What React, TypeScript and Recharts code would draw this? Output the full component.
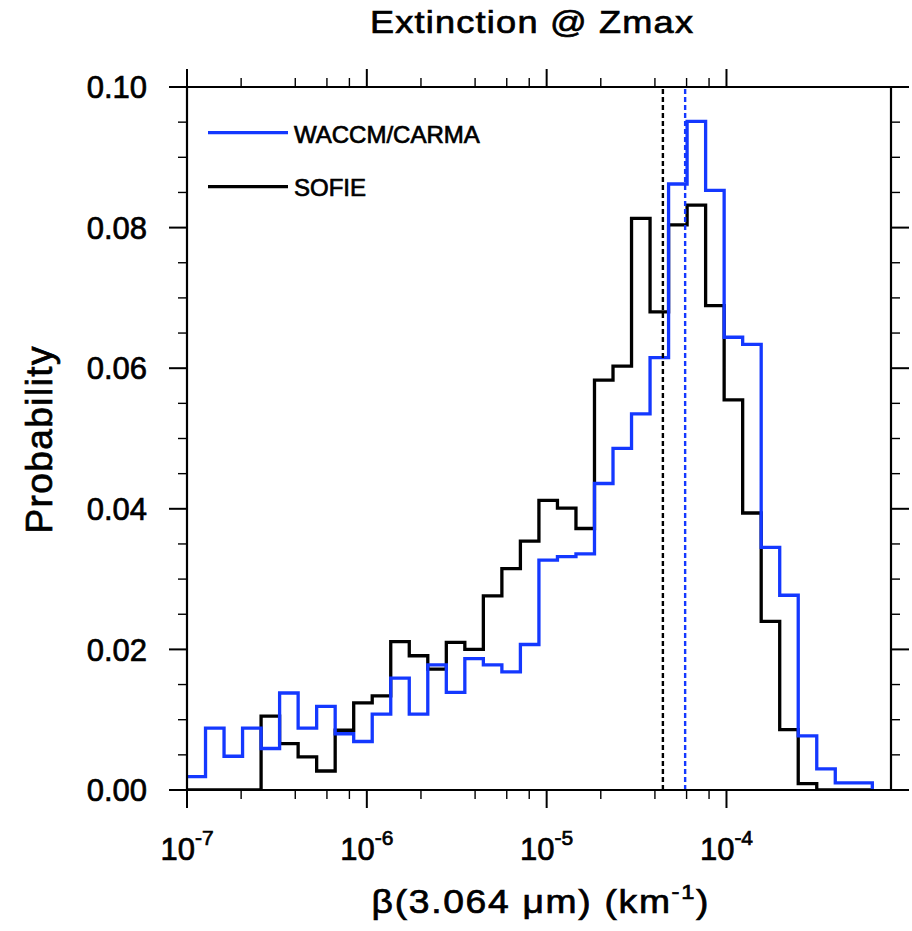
import React from 'react';
import { ComposedChart, Line, XAxis, YAxis, ReferenceLine, Customized } from 'recharts';

// ---- data ----
const LOG_MIN = -7; // first bin edge = 1e-7
const BIN_WIDTH_DECADES = 0.103; // histogram bin width in log10 units
const X_MAX = 8.22e-4;

const waccmCarma = [
  0.0019, 0.0088, 0.0048, 0.0088, 0.0059, 0.0138, 0.0088, 0.0119, 0.0080, 0.0069,
  0.0108, 0.0159, 0.0108, 0.0178, 0.0139, 0.0187, 0.0178, 0.0168, 0.0207, 0.0327,
  0.0332, 0.0336, 0.0436, 0.0486, 0.0535, 0.0615, 0.0862, 0.0951, 0.0853, 0.0644,
  0.0634, 0.0345, 0.0277, 0.0077, 0.0030, 0.0010, 0.0010,
];
const sofie = [
  0.0, 0.0, 0.0, 0.0, 0.0105, 0.0066, 0.0047, 0.0027, 0.0085, 0.0124,
  0.0134, 0.0211, 0.0191, 0.0172, 0.0210, 0.0200, 0.0276, 0.0315, 0.0354, 0.0412,
  0.0401, 0.0372, 0.0583, 0.0603, 0.0813, 0.0680, 0.0804, 0.0832, 0.0689, 0.0555,
  0.0394, 0.0240, 0.0086, 0.0009, 0.0, 0.0, 0.0,
];
const waccmMean = 5.89e-5;
const sofieMean = 4.43e-5;

const xMajorExponents = [-7, -6, -5, -4];
const xMinorMultipliers = [2, 4, 6, 8];
const yMajorTicks = [0, 0.02, 0.04, 0.06, 0.08, 0.1];
const yTickLabels = ['0.00', '0.02', '0.04', '0.06', '0.08', '0.10'];
const yMinorTicks = [0.005, 0.01, 0.015, 0.025, 0.03, 0.035, 0.045, 0.05, 0.055, 0.065, 0.07, 0.075, 0.085, 0.09, 0.095];

const seriesNames = ['WACCM/CARMA', 'SOFIE'];
const seriesColors = ['#1438ff', '#000000'];
const title = 'Extinction @ Zmax';
const yLabel = 'Probability';

// ---- derived ----
const binEdges = Array.from({ length: waccmCarma.length + 1 }, (_, k) =>
  Math.pow(10, LOG_MIN + BIN_WIDTH_DECADES * k)
);
const chartData = binEdges.map((edge, k) => ({
  edge,
  waccm: k < waccmCarma.length ? waccmCarma[k] : 0,
  sofie: k < sofie.length ? sofie[k] : 0,
}));

const xTicks: number[] = [];
xMajorExponents.forEach((e, i) => {
  xTicks.push(Math.pow(10, e));
  if (i < xMajorExponents.length - 1) {
    xMinorMultipliers.forEach((m) => xTicks.push(m * Math.pow(10, e)));
  }
});
const yTicks = [...yMajorTicks, ...yMinorTicks].sort((a, b) => a - b);

const FONT = '"Liberation Sans", Arial, Helvetica, sans-serif';
const TEXT_STROKE = 0.7;
const MAJOR = 18;
const MINOR = 9;

const isXMajor = (v: number) => {
  const e = Math.round(Math.log10(v));
  return Math.abs(v / Math.pow(10, e) - 1) < 1e-6;
};

const XTickBottom = (props: any) => {
  const { x, y, payload } = props;
  const v = payload.value;
  const major = isXMajor(v);
  const exp = Math.round(Math.log10(v));
  return (
    <g>
      <line x1={x} x2={x} y1={y} y2={y + (major ? MAJOR : MINOR)} stroke="#000" strokeWidth={major ? 2 : 1.4} />
      {major && (
        <text
          x={x}
          y={y + 70}
          textAnchor="middle"
          fontSize={31}
          fontFamily={FONT}
          fill="#000"
          stroke="#000"
          strokeWidth={TEXT_STROKE}
        >
          <tspan>10</tspan>
          <tspan dy={-15} fontSize={21}>{`${exp}`}</tspan>
        </text>
      )}
    </g>
  );
};

const XTickTop = (props: any) => {
  const { x, y, payload } = props;
  const major = isXMajor(payload.value);
  return <line x1={x} x2={x} y1={y} y2={y - (major ? MAJOR : MINOR)} stroke="#000" strokeWidth={major ? 2 : 1.4} />;
};

const majorIndex = (v: number) => yMajorTicks.findIndex((t) => Math.abs(t - v) < 1e-9);

const YTickLeft = (props: any) => {
  const { x, y, payload } = props;
  const idx = majorIndex(payload.value);
  const major = idx >= 0;
  return (
    <g>
      <line x1={x} x2={x - (major ? MAJOR : MINOR)} y1={y} y2={y} stroke="#000" strokeWidth={major ? 2 : 1.4} />
      {major && (
        <text
          x={x - 40}
          y={y}
          dy="0.36em"
          textAnchor="end"
          fontSize={31}
          fontFamily={FONT}
          fill="#000"
          stroke="#000"
          strokeWidth={TEXT_STROKE}
        >
          {yTickLabels[idx]}
        </text>
      )}
    </g>
  );
};

const YTickRight = (props: any) => {
  const { x, y, payload } = props;
  const major = majorIndex(payload.value) >= 0;
  return <line x1={x} x2={x + (major ? MAJOR : MINOR)} y1={y} y2={y} stroke="#000" strokeWidth={major ? 2 : 1.4} />;
};

const STRETCH = 1.13;

const Overlay = () => (
  <g fontFamily={FONT} fill="#000" stroke="#000" strokeWidth={TEXT_STROKE}>
    <g transform={`translate(531.5 32.7) scale(${STRETCH} 1)`}>
      <text x={0} y={0} textAnchor="middle" fontSize={32} textLength={323 / STRETCH} lengthAdjust="spacing">
        {title}
      </text>
    </g>
    <g transform={`translate(540 912.7) scale(${STRETCH} 1)`}>
      <text x={0} y={0} textAnchor="middle" fontSize={33} textLength={337 / STRETCH} lengthAdjust="spacing">
        <tspan>β(3.064 μm) (km</tspan>
        <tspan dy={-14} fontSize={21}>-1</tspan>
        <tspan dy={14}>)</tspan>
      </text>
    </g>
    <text
      x={51.7}
      y={440}
      transform="rotate(-90 51.7 440)"
      textAnchor="middle"
      fontSize={37}
      textLength={187}
      lengthAdjust="spacing"
    >
      {yLabel}
    </text>
    {seriesNames.map((name, i) => (
      <g key={name}>
        <line
          x1={208}
          x2={288}
          y1={132.7 + i * 54}
          y2={132.7 + i * 54}
          stroke={seriesColors[i]}
          strokeWidth={3.3}
        />
        <text x={294} y={142.7 + i * 53} fontSize={24}>
          {name}
        </text>
      </g>
    ))}
  </g>
);

export default function App() {
  return (
    <>
      <style>{`body{margin:0}`}</style>
      <ComposedChart
        width={912}
        height={931}
        data={chartData}
        margin={{ top: 67, right: 0, bottom: 41, left: 0 }}
      >
        <XAxis
          xAxisId="bottom"
          dataKey="edge"
          type="number"
          scale="log"
          domain={[1e-7, X_MAX]}
          allowDataOverflow
          ticks={xTicks}
          interval={0}
          tickSize={0}
          tickMargin={0}
          tick={<XTickBottom />}
          tickLine={false}
          axisLine={{ stroke: '#000', strokeWidth: 2.2 }}
          height={100}
          orientation="bottom"
        />
        <XAxis
          xAxisId="top"
          dataKey="edge"
          type="number"
          scale="log"
          domain={[1e-7, X_MAX]}
          allowDataOverflow
          ticks={xTicks}
          interval={0}
          tickSize={0}
          tickMargin={0}
          tick={<XTickTop />}
          tickLine={false}
          axisLine={{ stroke: '#000', strokeWidth: 2.2 }}
          height={20}
          orientation="top"
        />
        <YAxis
          yAxisId="left"
          type="number"
          domain={[0, 0.1]}
          allowDataOverflow
          ticks={yTicks}
          interval={0}
          tickSize={0}
          tickMargin={0}
          tick={<YTickLeft />}
          tickLine={false}
          axisLine={{ stroke: '#000', strokeWidth: 2.2 }}
          width={187}
          orientation="left"
        />
        <YAxis
          yAxisId="right"
          type="number"
          domain={[0, 0.1]}
          allowDataOverflow
          ticks={yTicks}
          interval={0}
          tickSize={0}
          tickMargin={0}
          tick={<YTickRight />}
          tickLine={false}
          axisLine={{ stroke: '#000', strokeWidth: 2.2 }}
          width={21}
          orientation="right"
        />
        <Line
          xAxisId="top"
          yAxisId="right"
          dataKey="waccm"
          type="stepAfter"
          stroke="transparent"
          dot={false}
          activeDot={false}
          isAnimationActive={false}
          legendType="none"
        />
        <Line
          xAxisId="bottom"
          yAxisId="left"
          dataKey="sofie"
          name={seriesNames[1]}
          type="stepAfter"
          stroke={seriesColors[1]}
          strokeWidth={3.3}
          dot={false}
          activeDot={false}
          isAnimationActive={false}
        />
        <Line
          xAxisId="bottom"
          yAxisId="left"
          dataKey="waccm"
          name={seriesNames[0]}
          type="stepAfter"
          stroke={seriesColors[0]}
          strokeWidth={3.3}
          dot={false}
          activeDot={false}
          isAnimationActive={false}
        />
        <ReferenceLine
          xAxisId="bottom"
          yAxisId="left"
          x={sofieMean}
          stroke="#000"
          strokeWidth={2.4}
          strokeDasharray="5 3"
        />
        <ReferenceLine
          xAxisId="bottom"
          yAxisId="left"
          x={waccmMean}
          stroke={seriesColors[0]}
          strokeWidth={2.4}
          strokeDasharray="5 3"
        />
        <Customized component={Overlay} />
      </ComposedChart>
    </>
  );
}
